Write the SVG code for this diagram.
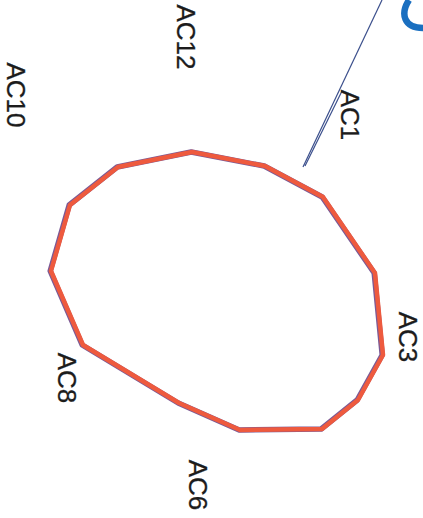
<svg xmlns="http://www.w3.org/2000/svg" width="423" height="518" viewBox="0 0 423 518">
<style>
.lbl{font-family:"Liberation Sans",Arial,sans-serif;font-size:26px;fill:#1c1c1c;text-anchor:middle;stroke:#1c1c1c;stroke-width:0.3}
.ln{stroke:#3b4f8c;stroke-width:1.2;fill:none}
</style>
<rect width="423" height="518" fill="#ffffff"/>
<g id="shape">
<polygon points="192,152 265,166 323,197 375,273 383,355 358,400 322,429 240,430 179,403 83,345 51,271 70,205 118,167" fill="none" stroke="#7a5a96" stroke-width="5.5" stroke-linejoin="round" transform="translate(-0.8,0)"/>
<polygon points="192,152 265,166 323,197 375,273 383,355 358,400 322,429 240,430 179,403 83,345 51,271 70,205 118,167" fill="none" stroke="#ee5a3e" stroke-width="4.5" stroke-linejoin="round"/>
</g>
<g id="connectors">
<line class="ln" x1="382" y1="0" x2="303" y2="167"/>
<line class="ln" x1="342" y1="91" x2="305" y2="166"/>
</g>
<g id="arc">
<path d="M409,0 C400,14 404,28 423,28" fill="none" stroke="#1a6fc0" stroke-width="6.5"/>
</g>
<g id="AC12"><text class="lbl" transform="translate(177,37) rotate(90)">AC12</text></g>
<g id="AC10"><text class="lbl" transform="translate(7,95) rotate(90)">AC10</text></g>
<g id="AC1"><text class="lbl" transform="translate(341,115) rotate(90)">AC1</text></g>
<g id="AC3"><text class="lbl" transform="translate(399,337) rotate(90)">AC3</text></g>
<g id="AC8"><text class="lbl" transform="translate(58,378) rotate(90)">AC8</text></g>
<g id="AC6"><text class="lbl" transform="translate(189,485) rotate(90)">AC6</text></g>
</svg>
